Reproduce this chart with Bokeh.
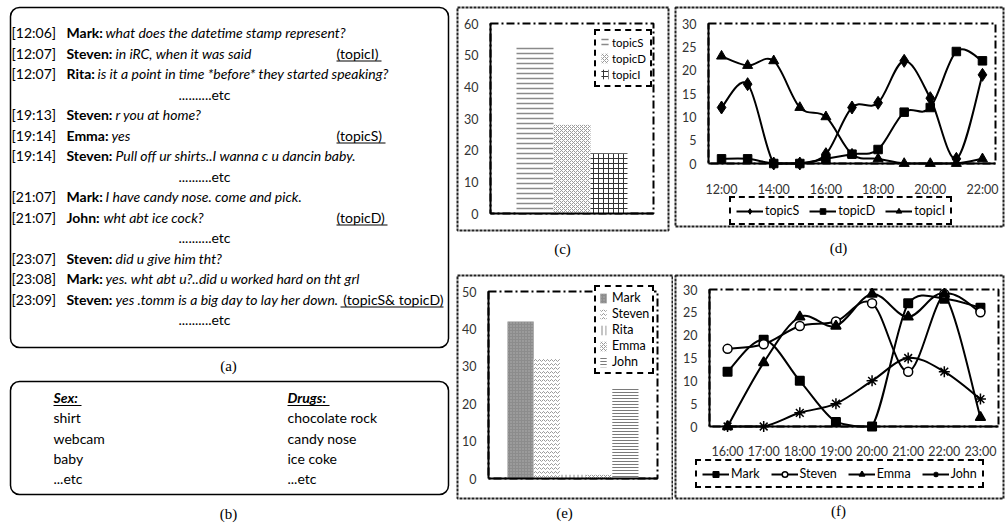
import numpy as np
from bokeh.plotting import figure
from bokeh.layouts import row, column
from bokeh.models import (Range1d, BoxAnnotation, Label, Legend, LegendItem,
                          FixedTicker, ColumnDataSource)
from bokeh.core.properties import value, field
from bokeh.embed import file_html
from bokeh.resources import INLINE

# ---------------- data ----------------
chat_times = ["[12:06]", "[12:07]", "[12:07]", "", "[19:13]", "[19:14]", "[19:14]", "",
              "[21:07]", "[21:07]", "", "[23:07]", "[23:08]", "[23:09]", ""]
chat_names = ["Mark", "Steven", "Rita", "", "Steven", "Emma", "Steven", "",
              "Mark", "John", "", "Steven", "Mark", "Steven", ""]
chat_msgs = ["what does the datetime stamp represent?",
             "in iRC, when it was said",
             "is it a point in time *before* they started speaking?",
             "",
             "r you at home?",
             "yes",
             "Pull off ur shirts..I wanna c u dancin baby.",
             "",
             "I have candy nose. come and pick.",
             "wht abt ice cock?",
             "",
             "did u give him tht?",
             "yes. wht abt u?..did u worked hard on tht grl",
             "yes .tomm is a big day to lay her down.",
             ""]
chat_tags = ["", "(topicI)", "", "", "", "(topicS)", "", "", "", "(topicD)", "",
             "", "", "(topicS& topicD)", ""]
etc_text = "..........etc"

sex_title = "Sex:"
drug_title = "Drugs:"
sex_words = ["shirt", "webcam", "baby", "...etc"]
drug_words = ["chocolate rock", "candy nose", "ice coke", "...etc"]

topics = ["topicS", "topicD", "topicI"]
topic_totals = [53, 28, 19]

users = ["Mark", "Steven", "Rita", "Emma", "John"]
user_totals = [42, 32, 1, 1, 24]

hours_d = ["12:00", "13:00", "14:00", "15:00", "16:00", "17:00", "18:00",
           "19:00", "20:00", "21:00", "22:00"]
topicS_by_hour = [12, 17, 0, 0, 2, 12, 13, 22, 14, 1, 19]
topicD_by_hour = [1, 1, 0, 0, 1, 2, 3, 11, 12, 24, 22]
topicI_by_hour = [23, 21, 22, 12, 10, 2, 1, 0, 0, 0, 1]

hours_f = ["16:00", "17:00", "18:00", "19:00", "20:00", "21:00", "22:00", "23:00"]
mark_by_hour = [12, 19, 10, 1, 0, 27, 28, 26]
steven_by_hour = [17, 18, 22, 23, 27, 12, 29, 25]
emma_by_hour = [0, 14, 24, 22, 29, 24, 29, 2]
john_by_hour = [0, 0, 3, 5, 10, 15, 12, 6]

# ---------------- styles ----------------
SANS = "Lato"
SERIF = "Liberation Serif"
DASHDOT = "8 3 2 3"
DOTTED = "3 1"
FRAME_COLOR = "#222222"
TICK_COLOR = "#333333"

# ---------------- (a) + (b) text panels ----------------
LW, LH = 455, 525
pa = figure(width=LW, height=LH, x_range=Range1d(0, LW), y_range=Range1d(LH, 0),
            x_axis_type=None, y_axis_type=None, min_border=0, output_backend="svg",
            toolbar_location=None, outline_line_color=None)

line_y0, line_dy = 32, 20.5
ts_x, name_x = 11, 66
msg_x = {"Mark": 105, "Steven": 115, "Rita": 97, "Emma": 111, "John": 103}
tag_x, tag_right = 336, 443
tag_w = {"(topicI)": 45, "(topicS)": 49, "(topicD)": 51, "(topicS& topicD)": 103}
etc_x = 204
FS = "14px"

norm = dict(x=[], y=[], t=[])
bold = dict(x=[], y=[], t=[])
ital = dict(x=[], y=[], t=[])
etcs = dict(x=[], y=[], t=[])
tags_l = dict(x=[], y=[], t=[])
tags_r = dict(x=[], y=[], t=[])
ul = dict(x0=[], x1=[], y=[])
for i in range(len(chat_times)):
    y = line_y0 + i * line_dy
    if chat_names[i] == "":
        etcs["x"].append(etc_x); etcs["y"].append(y); etcs["t"].append(etc_text)
        continue
    norm["x"].append(ts_x); norm["y"].append(y); norm["t"].append(chat_times[i])
    bold["x"].append(name_x); bold["y"].append(y); bold["t"].append(chat_names[i] + ":")
    ital["x"].append(msg_x[chat_names[i]]); ital["y"].append(y); ital["t"].append(chat_msgs[i])
    tg = chat_tags[i]
    if tg:
        w = tag_w[tg]
        if len(tg) > 10:
            tags_r["x"].append(tag_right); tags_r["y"].append(y); tags_r["t"].append(tg)
            ul["x0"].append(tag_right - w); ul["x1"].append(tag_right)
        else:
            tags_l["x"].append(tag_x); tags_l["y"].append(y); tags_l["t"].append(tg)
            ul["x0"].append(tag_x); ul["x1"].append(tag_x + w)
        ul["y"].append(y + 8)

common = dict(text_font=value(SANS), text_font_size=FS, text_baseline="middle",
              text_color="black")
pa.text(x="x", y="y", text="t", source=ColumnDataSource(norm), **common)
pa.text(x="x", y="y", text="t", source=ColumnDataSource(bold), text_font_style="bold", **common)
pa.text(x="x", y="y", text="t", source=ColumnDataSource(ital), text_font_style="italic", **common)
pa.text(x="x", y="y", text="t", source=ColumnDataSource(etcs), text_align="center", **common)
pa.text(x="x", y="y", text="t", source=ColumnDataSource(tags_l), **common)
pa.text(x="x", y="y", text="t", source=ColumnDataSource(tags_r), text_align="right", **common)

# panel (b)
b_y0, b_dy = 397, 20.3
sx_b, dx_b = 53, 287
pa.text(x=[sx_b, dx_b], y=[b_y0, b_y0], text=[sex_title, drug_title],
        text_font_style="bold italic", **common)
ul["x0"] += [sx_b, dx_b]; ul["x1"] += [sx_b + 28, dx_b + 42]; ul["y"] += [b_y0 + 8, b_y0 + 8]
pa.text(x=[sx_b] * len(sex_words), y=[b_y0 + b_dy * (k + 1) for k in range(len(sex_words))],
        text=sex_words, **common)
pa.text(x=[dx_b] * len(drug_words), y=[b_y0 + b_dy * (k + 1) for k in range(len(drug_words))],
        text=drug_words, **common)
pa.segment(x0="x0", x1="x1", y0="y", y1="y", source=ColumnDataSource(ul),
           line_color="black", line_width=1)

for (t, b) in [(7, 347), (381, 494)]:
    pa.add_layout(BoxAnnotation(left=10, right=448, top=t, bottom=b, border_radius=9,
                                fill_color=None, line_color="black", line_alpha=1.0,
                                line_width=1.5))
pa.text(x=[228, 228], y=[365, 513], text=["(a)", "(b)"], text_font=value(SERIF),
        text_font_size="15px", text_align="center", text_baseline="middle",
        text_color="black")


# ---------------- chart helpers ----------------
def chart(canvas, plot_px, plot_data):
    ox, oy, W, H = canvas
    pl, pt, pr, pb = plot_px
    x0, x1, y0, y1 = plot_data
    sx = (pr - pl) / (x1 - x0)
    sy = (pb - pt) / (y1 - y0)
    xr = (x0 - (pl - ox) / sx, x0 + (ox + W - pl) / sx)
    yr = (y0 - (oy + H - pb) / sy, y0 + (pb - oy) / sy)
    p = figure(width=W, height=H, x_range=Range1d(*xr), y_range=Range1d(*yr),
               min_border=0, output_backend="svg", toolbar_location=None,
               outline_line_color=None)
    p.grid.visible = False
    p.xaxis.fixed_location = y0
    p.yaxis.fixed_location = x0
    p.xaxis.bounds = (x0, x1)
    p.yaxis.bounds = (y0, y1)
    for ax in p.axis:
        ax.axis_line_width = 2
        ax.axis_line_color = "black"
        ax.major_tick_line_color = None
        ax.minor_tick_line_color = None
        ax.major_label_text_font = SANS
        ax.major_label_text_font_size = "12.5px"
        ax.major_label_text_color = TICK_COLOR
    p.yaxis.major_label_standoff = 6

    def d(px, py):
        return (x0 + (px - pl) / sx, y0 + (pb - py) / sy)
    return p, d


def frames(p, d, outer, inner, caption, cap_xy):
    (l, t, r, b) = outer
    ax0, ay0 = d(l, b)
    ax1, ay1 = d(r, t)
    p.add_layout(BoxAnnotation(left=ax0, right=ax1, bottom=ay0, top=ay1, fill_color=None,
                               line_color=FRAME_COLOR, line_alpha=1.0, line_width=2,
                               line_dash=DOTTED, level="underlay"))
    p.add_layout(BoxAnnotation(left=inner[0], right=inner[1], bottom=inner[2], top=inner[3],
                               fill_color=None, line_color="black", line_alpha=1.0,
                               line_width=2, line_dash=DASHDOT, level="underlay"))
    cx, cy = d(*cap_xy)
    p.add_layout(Label(x=cx, y=cy, text=caption, text_align="center",
                       text_baseline="middle", text_font=SERIF, text_font_size="15px",
                       text_color="black"))


def legend_style(leg, fs):
    leg.border_line_color = "black"
    leg.border_line_alpha = 1.0
    leg.border_line_width = 2
    leg.border_line_dash = DASHDOT
    leg.background_fill_color = "white"
    leg.background_fill_alpha = 1.0
    leg.label_text_font = SANS
    leg.label_text_font_size = fs
    leg.label_text_color = "black"
    leg.margin = 0


def smooth(xv, yv, lo, hi, t=1.0 / 6.0):
    x = np.asarray(xv, float)
    y = np.asarray(yv, float)
    n = len(x)
    xp = np.r_[x[0], x, x[-1]]
    yp = np.r_[y[0], y, y[-1]]
    cy0 = np.clip(yp[1:n] + (yp[2:n + 1] - yp[0:n - 1]) * t, lo, hi)
    cy1 = np.clip(yp[2:n + 1] - (yp[3:n + 2] - yp[1:n]) * t, lo, hi)
    return dict(x0=x[:-1], y0=y[:-1], x1=x[1:], y1=y[1:],
                cx0=xp[1:n] + (xp[2:n + 1] - xp[0:n - 1]) * t, cy0=cy0,
                cx1=xp[2:n + 1] - (xp[3:n + 2] - xp[1:n]) * t, cy1=cy1)


# ---------------- (c) topic totals ----------------
C_CANVAS = (455, 0, 218, 270)
pc, dc = chart(C_CANVAS, (490, 23, 653, 213), (-0.5, 0.5, 0, 60))
pc.xaxis.ticker = FixedTicker(ticks=[])
pc.yaxis.ticker = FixedTicker(ticks=list(range(0, 61, 10)))
nb = len(topics)
bw_c = 0.227
src_c = ColumnDataSource(dict(
    x=(np.arange(nb) - (nb - 1) / 2) * bw_c, top=topic_totals,
    pat=["horizontal_line", "diagonal_cross", "cross"],
    hc=["#8a8a8a", "#9a9a9a", "#333333"], hs=[5, 4, 5], hw=[1.5, 1, 1]))
rc = pc.vbar(x="x", top="top", bottom=0, width=bw_c, source=src_c, fill_color="white",
             line_color=None, hatch_pattern=field("pat"), hatch_color=field("hc"),
             hatch_scale=field("hs"), hatch_weight=field("hw"))
frames(pc, dc, (457, 7, 668, 230), (-0.5, 0.5, 0, 60), "(c)", (562, 248))
leg_c = Legend(items=[LegendItem(label=t, renderers=[rc], index=i) for i, t in enumerate(topics)],
               location=(594 - C_CANVAS[0], C_CANVAS[1] + C_CANVAS[3] - 87),
               padding=4, spacing=2, glyph_width=9, glyph_height=12,
               label_standoff=3, label_height=14)
legend_style(leg_c, "11.5px")
pc.add_layout(leg_c)

# ---------------- (e) user totals ----------------
E_CANVAS = (455, 270, 218, 255)
pe, de = chart(E_CANVAS, (488, 291, 657, 478), (-0.5, 0.5, 0, 50))
pe.xaxis.ticker = FixedTicker(ticks=[])
pe.yaxis.ticker = FixedTicker(ticks=list(range(0, 51, 10)))
nu = len(users)
bw_e = 0.155
src_e = ColumnDataSource(dict(
    x=(np.arange(nu) - (nu - 1) / 2) * bw_e, top=user_totals,
    fc=["#8c8c8c", "white", "white", "white", "white"],
    pat=["dot", "horizontal_wave", "vertical_line", "diagonal_cross", "horizontal_line"],
    hc=["#b0b0b0", "#9a9a9a", "#888888", "#999999", "#7a7a7a"],
    hs=[3, 4, 4, 4, 3], hw=[1, 1, 1, 1, 1]))
re_ = pe.vbar(x="x", top="top", bottom=0, width=bw_e, source=src_e, fill_color="fc",
              line_color=None, hatch_pattern=field("pat"), hatch_color=field("hc"),
              hatch_scale=field("hs"), hatch_weight=field("hw"))
frames(pe, de, (457, 275, 672, 498), (-0.5, 0.5, 0, 50), "(e)", (564, 512))
leg_e = Legend(items=[LegendItem(label=u, renderers=[re_], index=i) for i, u in enumerate(users)],
               location=(594 - E_CANVAS[0], E_CANVAS[1] + E_CANVAS[3] - 374),
               padding=3, spacing=1, glyph_width=8, glyph_height=12,
               label_standoff=5, label_height=14)
legend_style(leg_e, "12.5px")
pe.add_layout(leg_e)

# ---------------- (d) topics per hour ----------------
D_CANVAS = (673, 0, 332, 270)
pd_, dd = chart(D_CANVAS, (708, 23, 995, 163), (-0.5, len(hours_d) - 0.5, 0, 30))
pd_.yaxis.ticker = FixedTicker(ticks=list(range(0, 31, 5)))
pd_.xaxis.ticker = FixedTicker(ticks=list(range(0, len(hours_d), 2)))
pd_.xaxis.major_label_overrides = {i: h for i, h in enumerate(hours_d)}
pd_.xaxis.major_label_standoff = 12
xi_d = np.arange(len(hours_d))
items_d = []
for name, vals, mk, sz in [("topicS", topicS_by_hour, "diamond", 13),
                           ("topicD", topicD_by_hour, "square", 8.5),
                           ("topicI", topicI_by_hour, "triangle", 10)]:
    rb = pd_.bezier(source=ColumnDataSource(smooth(xi_d, vals, 0, 30)), x0="x0", y0="y0",
                    x1="x1", y1="y1", cx0="cx0", cy0="cy0", cx1="cx1", cy1="cy1",
                    line_color="black", line_width=2)
    rs = pd_.scatter(xi_d, vals, marker=mk, size=sz, fill_color="black",
                     line_color="black")
    items_d.append(LegendItem(label=name, renderers=[rb, rs]))
frames(pd_, dd, (675, 7, 1003, 226), (-0.5, len(hours_d) - 0.5, 0, 30), "(d)", (838, 247))
leg_d = Legend(items=items_d, orientation="horizontal",
               location=(729 - D_CANVAS[0], D_CANVAS[1] + D_CANVAS[3] - 225), padding=5,
               spacing=10, glyph_width=27, glyph_height=14, label_standoff=2)
legend_style(leg_d, "12.5px")
pd_.add_layout(leg_d)

# ---------------- (f) users per hour ----------------
F_CANVAS = (673, 270, 332, 255)
pf, df = chart(F_CANVAS, (709, 289, 998, 426), (-0.5, len(hours_f) - 0.5, 0, 30))
pf.yaxis.ticker = FixedTicker(ticks=list(range(0, 31, 5)))
pf.xaxis.ticker = FixedTicker(ticks=list(range(len(hours_f))))
pf.xaxis.major_label_overrides = {i: h for i, h in enumerate(hours_f)}
pf.xaxis.major_label_standoff = 11
xi_f = np.arange(len(hours_f))
items_f = []
for name, vals, mk, sz, fc in [("Mark", mark_by_hour, "square", 8.5, "black"),
                               ("Steven", steven_by_hour, "circle", 9, "white"),
                               ("Emma", emma_by_hour, "triangle", 10, "black"),
                               ("John", john_by_hour, "asterisk", 11, "black")]:
    rb = pf.bezier(source=ColumnDataSource(smooth(xi_f, vals, 0, 30)), x0="x0", y0="y0",
                   x1="x1", y1="y1", cx0="cx0", cy0="cy0", cx1="cx1", cy1="cy1",
                   line_color="black", line_width=2)
    rs = pf.scatter(xi_f, vals, marker=mk, size=sz, fill_color=fc, line_color="black",
                    line_width=1.5)
    items_f.append(LegendItem(label=name, renderers=[rb, rs]))
frames(pf, df, (675, 275, 1003, 498), (-0.5, len(hours_f) - 0.5, 0, 30), "(f)", (838, 510))
leg_f = Legend(items=items_f, orientation="horizontal",
               location=(695 - F_CANVAS[0], F_CANVAS[1] + F_CANVAS[3] - 488), padding=5,
               spacing=11, glyph_width=27, glyph_height=14, label_standoff=2)
legend_style(leg_f, "12.5px")
pf.add_layout(leg_f)

layout = row(pa, column(pc, pe), column(pd_, pf))
open("out.html", "w").write(file_html(layout, INLINE))
